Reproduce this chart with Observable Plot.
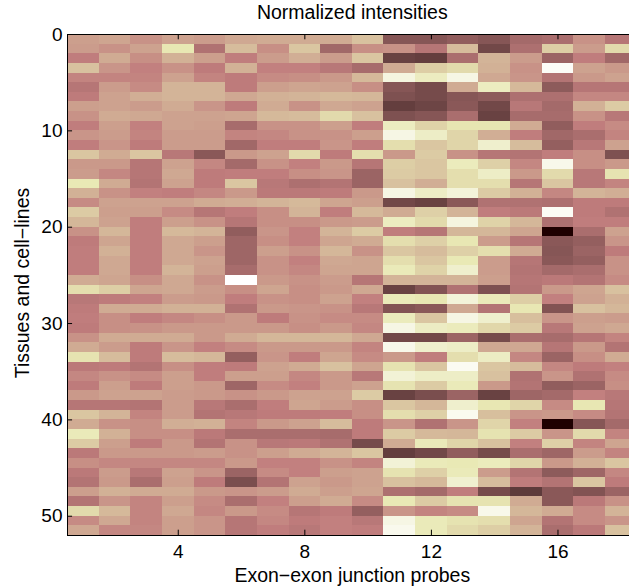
<!DOCTYPE html>
<html><head><meta charset="utf-8">
<style>html,body{margin:0;padding:0;background:#fff;overflow:hidden}svg{display:block}</style>
<script src="https://cdn.jsdelivr.net/npm/d3@7"></script>
<script src="https://cdn.jsdelivr.net/npm/@observablehq/plot@0.6"></script>
</head><body><div id="chart"></div>
<script>
const titleText = "Normalized intensities";
const xLabel = "Exon\u2212exon junction probes";
const yLabel = "Tissues and cell\u2212lines";
const xTicks = [4, 8, 12, 16];
const yTicks = [0, 10, 20, 30, 40, 50];
// one list per tissue / cell line, one value per probe (1..18)
const intensities = [
[.46,.48,.42,.47,.45,.49,.5,.5,.5,.58,.17,.17,.2,.17,.26,.28,.42,.32],
[.45,.42,.47,.74,.30,.56,.41,.6,.25,.41,.42,.32,.56,.12,.29,.63,.45,.68],
[.36,.5,.41,.52,.46,.36,.45,.51,.45,.6,.1,.09,.28,.53,.45,.23,.36,.25],
[.58,.43,.37,.42,.35,.52,.37,.37,.33,.27,.5,.63,.68,.52,.42,.97,.47,.44],
[.38,.38,.38,.47,.38,.35,.4,.41,.44,.55,.88,.78,.9,.49,.43,.31,.44,.47],
[.32,.45,.4,.53,.53,.35,.46,.48,.47,.41,.17,.13,.5,.78,.55,.19,.32,.32],
[.35,.47,.51,.53,.53,.49,.52,.53,.55,.54,.15,.13,.17,.19,.29,.29,.39,.39],
[.46,.47,.45,.5,.43,.35,.5,.42,.49,.47,.09,.11,.18,.12,.33,.26,.52,.62],
[.42,.5,.49,.47,.47,.48,.55,.56,.68,.58,.15,.17,.28,.1,.27,.27,.42,.33],
[.36,.46,.37,.47,.46,.27,.42,.42,.46,.36,.78,.65,.73,.73,.5,.2,.36,.4],
[.43,.45,.38,.45,.45,.38,.39,.42,.42,.46,.9,.8,.66,.51,.36,.25,.28,.38],
[.36,.43,.35,.45,.45,.25,.36,.36,.43,.36,.7,.6,.66,.82,.56,.21,.33,.47],
[.6,.5,.6,.33,.18,.44,.47,.68,.35,.7,.44,.62,.42,.32,.31,.36,.41,.15],
[.44,.44,.32,.47,.39,.26,.42,.37,.44,.32,.63,.6,.77,.64,.39,.92,.41,.44],
[.45,.39,.32,.49,.35,.36,.36,.41,.43,.23,.62,.6,.7,.8,.44,.68,.33,.72],
[.75,.5,.31,.47,.35,.6,.33,.29,.31,.23,.58,.51,.7,.7,.32,.6,.33,.38],
[.52,.42,.37,.36,.39,.44,.34,.34,.35,.44,.9,.8,.86,.62,.52,.39,.53,.51],
[.4,.47,.47,.47,.5,.51,.53,.55,.48,.46,.12,.1,.18,.3,.3,.29,.35,.35],
[.62,.46,.46,.4,.32,.36,.41,.53,.36,.55,.5,.64,.53,.36,.34,.96,.35,.3],
[.54,.47,.36,.46,.42,.32,.41,.41,.44,.45,.78,.68,.88,.65,.54,.29,.36,.36],
[.42,.54,.36,.55,.53,.2,.43,.37,.53,.62,.36,.32,.54,.54,.48,0,.28,.47],
[.35,.48,.36,.49,.46,.24,.41,.37,.48,.5,.7,.64,.74,.45,.32,.18,.21,.43],
[.36,.52,.36,.49,.43,.24,.46,.42,.54,.42,.6,.56,.64,.7,.5,.17,.23,.35],
[.36,.49,.36,.49,.47,.24,.42,.37,.49,.48,.7,.6,.75,.45,.32,.18,.21,.42],
[.36,.49,.36,.53,.46,.27,.42,.39,.48,.48,.76,.65,.82,.45,.31,.26,.28,.42],
[.5,.48,.41,.49,.42,1,.44,.42,.45,.32,.53,.53,.53,.46,.32,.34,.31,.4],
[.7,.63,.48,.49,.45,.41,.48,.41,.44,.49,.1,.16,.3,.15,.31,.44,.48,.58],
[.33,.35,.37,.45,.44,.36,.42,.41,.47,.37,.76,.74,.86,.76,.63,.37,.47,.52],
[.35,.5,.5,.52,.52,.3,.44,.43,.42,.33,.16,.18,.49,.31,.74,.16,.58,.54],
[.36,.41,.36,.39,.41,.44,.35,.42,.4,.4,.77,.6,.9,.82,.57,.43,.46,.45],
[.35,.41,.42,.44,.44,.44,.44,.41,.44,.39,.9,.79,.77,.67,.62,.33,.47,.49],
[.42,.5,.5,.5,.44,.5,.54,.54,.54,.49,.12,.12,.23,.13,.28,.27,.32,.38],
[.5,.45,.35,.43,.37,.4,.44,.44,.44,.38,.92,.82,.8,.49,.49,.32,.44,.31],
[.72,.56,.35,.56,.54,.21,.43,.36,.48,.4,.44,.36,.7,.79,.39,.23,.41,.5],
[.34,.35,.31,.41,.36,.35,.47,.5,.58,.48,.72,.6,.95,.6,.56,.39,.35,.37],
[.39,.42,.4,.46,.36,.46,.46,.39,.44,.33,.85,.8,.8,.58,.3,.43,.3,.4],
[.35,.46,.35,.46,.44,.24,.4,.37,.44,.47,.72,.62,.76,.44,.31,.2,.23,.41],
[.44,.47,.47,.45,.44,.42,.44,.47,.47,.62,.1,.14,.23,.1,.24,.26,.37,.33],
[.32,.32,.31,.45,.33,.28,.36,.48,.45,.41,.6,.54,.82,.74,.66,.4,.74,.32],
[.6,.53,.38,.45,.31,.33,.35,.35,.36,.41,.7,.64,.94,.57,.43,.44,.4,.31],
[.5,.42,.41,.51,.52,.38,.44,.47,.56,.35,.43,.3,.43,.66,.37,0,.17,.26],
[.76,.52,.41,.41,.34,.28,.28,.28,.27,.35,.62,.55,.54,.72,.62,.43,.68,.38],
[.62,.46,.35,.44,.31,.42,.33,.34,.3,.13,.5,.76,.66,.58,.37,.64,.38,.48],
[.34,.44,.44,.44,.45,.42,.46,.5,.53,.6,.09,.12,.2,.13,.28,.24,.45,.38],
[.41,.39,.39,.39,.39,.44,.37,.37,.42,.38,.85,.76,.75,.77,.66,.44,.52,.6],
[.34,.45,.33,.47,.43,.23,.4,.37,.46,.47,.72,.64,.76,.45,.31,.19,.24,.39],
[.31,.44,.28,.46,.35,.14,.31,.47,.44,.47,.58,.55,.83,.56,.36,.31,.6,.35],
[.46,.52,.5,.5,.44,.43,.45,.5,.46,.48,.29,.26,.36,.13,.08,.18,.16,.23],
[.31,.43,.38,.46,.4,.28,.37,.46,.5,.4,.75,.62,.72,.72,.5,.18,.34,.42],
[.68,.55,.38,.49,.39,.44,.4,.32,.35,.21,.43,.38,.4,.92,.54,.5,.4,.53],
[.4,.49,.38,.46,.43,.32,.39,.35,.37,.33,.9,.76,.72,.7,.48,.31,.4,.43],
[.49,.39,.39,.46,.43,.32,.36,.33,.37,.36,.93,.76,.68,.63,.53,.28,.34,.58]
];

// MATLAB "pink" colour map (64 levels): sqrt((2*gray + hot) / 3)
function pink(t) {
  const v = Math.max(0, Math.min(1, t));
  const i = v * 63 + 1;
  const hr = Math.min(1, i / 24);
  const hg = i <= 24 ? 0 : Math.min(1, (i - 24) / 24);
  const hb = i <= 48 ? 0 : (i - 48) / 16;
  const f = h => Math.round(255 * Math.sqrt((2 * v + h) / 3));
  return `rgb(${f(hr)},${f(hg)},${f(hb)})`;
}

const cells = intensities.flatMap((row, i) => row.map((value, j) => ({
  probe: j + 1, row: i, value
})));

const font = "Liberation Sans, Helvetica, Arial, sans-serif";
const fs = 19;
const labelFs = 19.5;

const chart = Plot.plot({
  width: 629, height: 588,
  marginLeft: 67, marginRight: 0, marginTop: 34, marginBottom: 53,
  style: {fontFamily: font, fontSize: fs + "px", color: "#000", background: "#fff"},
  x: {domain: [0.5, 18.26]},
  y: {domain: [52, 0]},
  color: {type: "linear", domain: [0, 1], interpolate: pink},
  marks: [
    Plot.rect(cells, {
      x1: d => d.probe - 0.5, x2: d => d.probe + 0.5,
      y1: "row", y2: d => d.row + 1,
      fill: "value", clip: true, inset: 0, shapeRendering: "crispEdges"
    }),
    Plot.ruleY([0, 52], {stroke: "#000", strokeWidth: 1}),
    Plot.ruleX([0.5], {stroke: "#000", strokeWidth: 1}),
    Plot.axisX({anchor: "bottom", ticks: xTicks, tickSize: 0, tickPadding: 9, label: null, tickFormat: d3.format("d"), fontSize: fs}),
    Plot.axisY({anchor: "left", ticks: yTicks, tickSize: 0, tickPadding: 5, label: null, tickFormat: d3.format("d"), fontSize: fs}),
    Plot.ruleX(xTicks, {x: d => d, y1: 0, y2: 0.55, stroke: "#000"}),
    Plot.ruleX(xTicks, {x: d => d, y1: 51.45, y2: 52, stroke: "#000"}),
    Plot.ruleY(yTicks, {y: d => d, x1: 0.5, x2: 0.66, stroke: "#000"}),
    Plot.text([titleText], {x: () => 9.5, frameAnchor: "top", dy: -29, fontSize: labelFs, fill: "#000"}),
    Plot.text([xLabel], {x: () => 9.5, frameAnchor: "bottom", dy: 46, fontSize: labelFs, fill: "#000"}),
    Plot.text([yLabel], {frameAnchor: "left", textAnchor: "middle", dx: -45, dy: -2, rotate: -90, fontSize: labelFs, fill: "#000"})
  ]
});
document.getElementById("chart").append(chart);
</script></body></html>
